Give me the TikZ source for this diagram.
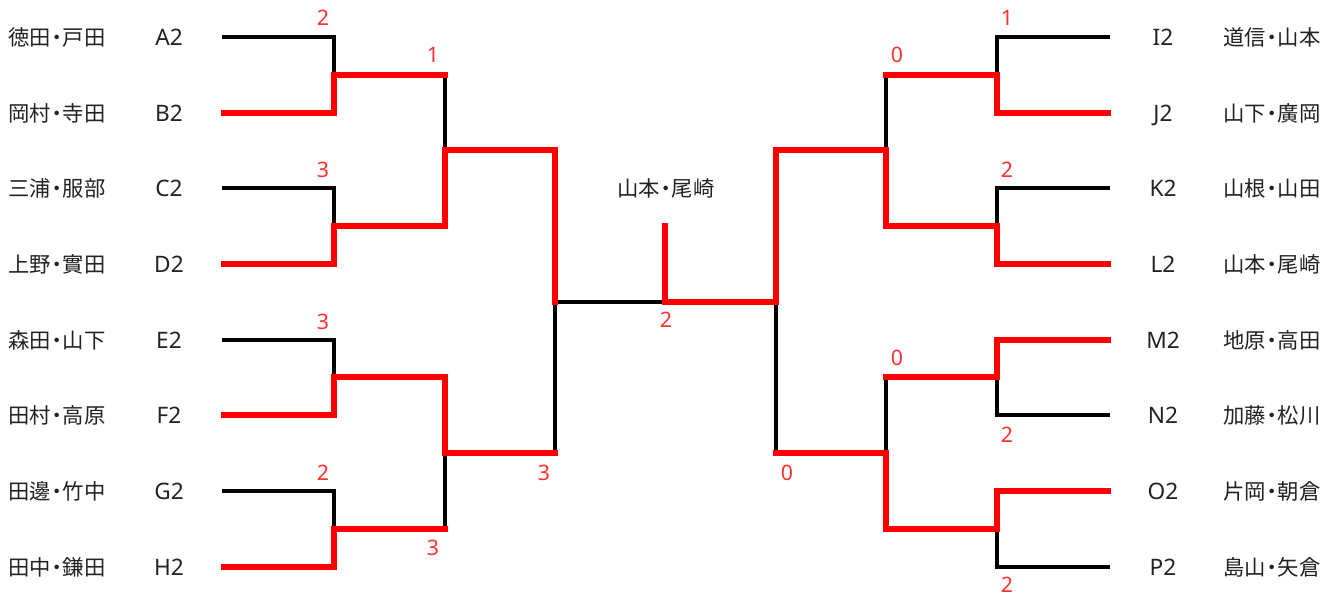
\documentclass[tikz,border=0pt]{standalone}
\usepackage{fontspec}
\newfontfamily\cjk{Noto Sans CJK JP}
\newfontfamily\lat{Noto Sans}
\definecolor{scorered}{HTML}{FF3030}
\definecolor{txt}{HTML}{222222}
\newcommand\nd{\makebox[0.55em][c]{・}}
\begin{document}
\begin{tikzpicture}[x=0.75pt,y=-0.75pt,
  blk/.style={line width=2.4pt,line cap=rect,line join=miter},
  win/.style={line width=3.9pt,red,line cap=rect,line join=miter},
  team/.style={font=\cjk\fontsize{16}{16}\selectfont,text=txt,inner sep=0pt},
  code/.style={font=\lat\fontsize{17}{17}\selectfont,text=txt,inner sep=0pt,text height=12.1pt,text depth=0pt},
  score/.style={font=\lat\fontsize{16}{16}\selectfont,text=scorered,inner sep=0pt,text height=11.4pt,text depth=0pt}]
\useasboundingbox (0,0) rectangle (1342,597);
% team line ends
\coordinate (tA) at (224,37);  \coordinate (tB) at (224,113);
\coordinate (tC) at (224,188); \coordinate (tD) at (224,264);
\coordinate (tE) at (224,340); \coordinate (tF) at (224,415);
\coordinate (tG) at (224,491); \coordinate (tH) at (224,567);
\coordinate (tI) at (1108,37);  \coordinate (tJ) at (1108,113);
\coordinate (tK) at (1108,188); \coordinate (tL) at (1108,264);
\coordinate (tM) at (1108,340); \coordinate (tN) at (1108,415);
\coordinate (tO) at (1108,491); \coordinate (tP) at (1108,567);
% joints
\coordinate (jAB) at (334,75);  \coordinate (jCD) at (334,226);
\coordinate (jEF) at (334,377); \coordinate (jGH) at (334,529);
\coordinate (jABCD) at (445,150); \coordinate (jEFGH) at (445,453);
\coordinate (jL) at (555,302);
\coordinate (jIJ) at (997,75);  \coordinate (jKL) at (997,226);
\coordinate (jMN) at (997,377); \coordinate (jOP) at (997,529);
\coordinate (jIJKL) at (886,150); \coordinate (jMNOP) at (886,453);
\coordinate (jR) at (776,302);
\coordinate (cF) at (665,302); \coordinate (ctop) at (665,226);
% black lines
\draw[blk] (tA) -- (tA -| jAB) -- (jAB);
\draw[blk] (tC) -- (tC -| jCD) -- (jCD);
\draw[blk] (tE) -- (tE -| jEF) -- (jEF);
\draw[blk] (tG) -- (tG -| jGH) -- (jGH);
\draw[blk] (jAB -| jABCD) -- (jABCD);
\draw[blk] (jEFGH) -- (jGH -| jEFGH);
\draw[blk] (jL) -- (jEFGH -| jL);
\draw[blk] (jL) -- (cF);
\draw[blk] (tI) -- (tI -| jIJ) -- (jIJ);
\draw[blk] (tK) -- (tK -| jKL) -- (jKL);
\draw[blk] (tN) -- (tN -| jMN) -- (jMN);
\draw[blk] (tP) -- (tP -| jOP) -- (jOP);
\draw[blk] (jIJ -| jIJKL) -- (jIJKL);
\draw[blk] (jMN -| jMNOP) -- (jMNOP);
\draw[blk] (jR) -- (jMNOP -| jR);
% red winner lines
\draw[win] (tB) -- (tB -| jAB) -- (jAB) -- (jAB -| jABCD);
\draw[win] (tD) -- (tD -| jCD) -- (jCD) -- (jCD -| jABCD) -- (jABCD) -- (jABCD -| jL) -- (jL);
\draw[win] (tF) -- (tF -| jEF) -- (jEF) -- (jEF -| jEFGH) -- (jEFGH) -- (jEFGH -| jL);
\draw[win] (tH) -- (tH -| jGH) -- (jGH) -- (jGH -| jEFGH);
\draw[win] (tJ) -- (tJ -| jIJ) -- (jIJ) -- (jIJ -| jIJKL);
\draw[win] (tL) -- (tL -| jKL) -- (jKL) -- (jKL -| jIJKL) -- (jIJKL) -- (jIJKL -| jR) -- (jR) -- (cF) -- (ctop);
\draw[win] (tM) -- (tM -| jMN) -- (jMN) -- (jMN -| jMNOP);
\draw[win] (tO) -- (tO -| jOP) -- (jOP) -- (jOP -| jMNOP) -- (jMNOP) -- (jMNOP -| jR);
% left team texts
\node[team] (nA) at (57,37)  {徳田\nd 戸田}; \node[code] (cA) at (169,37)  {A2};
\node[team] (nB) at (57,113) {岡村\nd 寺田}; \node[code] (cB) at (169,113) {B2};
\node[team] (nC) at (57,188) {三浦\nd 服部}; \node[code] (cC) at (169,188) {C2};
\node[team] (nD) at (57,264) {上野\nd 實田}; \node[code] (cD) at (169,264) {D2};
\node[team] (nE) at (57,340) {森田\nd 山下}; \node[code] (cE) at (169,340) {E2};
\node[team] (nF) at (57,415) {田村\nd 高原}; \node[code] (cF2) at (169,415) {F2};
\node[team] (nG) at (57,491) {田邊\nd 竹中}; \node[code] (cG) at (169,491) {G2};
\node[team] (nH) at (57,567) {田中\nd 鎌田}; \node[code] (cH) at (169,567) {H2};
% right team texts
\node[code] (cI) at (1163,37)  {I2}; \node[team] (nI) at (1272,37)  {道信\nd 山本};
\node[code] (cJ) at (1163,113) {J2}; \node[team] (nJ) at (1272,113) {山下\nd 廣岡};
\node[code] (cK) at (1163,188) {K2}; \node[team] (nK) at (1272,188) {山根\nd 山田};
\node[code] (cL) at (1163,264) {L2}; \node[team] (nL) at (1272,264) {山本\nd 尾崎};
\node[code] (cM) at (1163,340) {M2}; \node[team] (nM) at (1272,340) {地原\nd 高田};
\node[code] (cN) at (1163,415) {N2}; \node[team] (nN) at (1272,415) {加藤\nd 松川};
\node[code] (cO) at (1163,491) {O2}; \node[team] (nO) at (1272,491) {片岡\nd 朝倉};
\node[code] (cP) at (1163,567) {P2}; \node[team] (nP) at (1272,567) {島山\nd 矢倉};
% champion
\node[team] (champ) at (666,188) {山本\nd 尾崎};
% scores
\node[score] (s1) at (323,18)  {2};
\node[score] (s2) at (433,55)  {1};
\node[score] (s3) at (323,170) {3};
\node[score] (s4) at (323,322) {3};
\node[score] (s5) at (323,473) {2};
\node[score] (s6) at (433,548) {3};
\node[score] (s7) at (544,473) {3};
\node[score] (s8) at (666,320) {2};
\node[score] (s9) at (1007,18)  {1};
\node[score] (s10) at (897,55)  {0};
\node[score] (s11) at (1007,170) {2};
\node[score] (s12) at (897,358) {0};
\node[score] (s13) at (1007,435) {2};
\node[score] (s14) at (787,473) {0};
\node[score] (s15) at (1007,585) {2};
\end{tikzpicture}
\end{document}
